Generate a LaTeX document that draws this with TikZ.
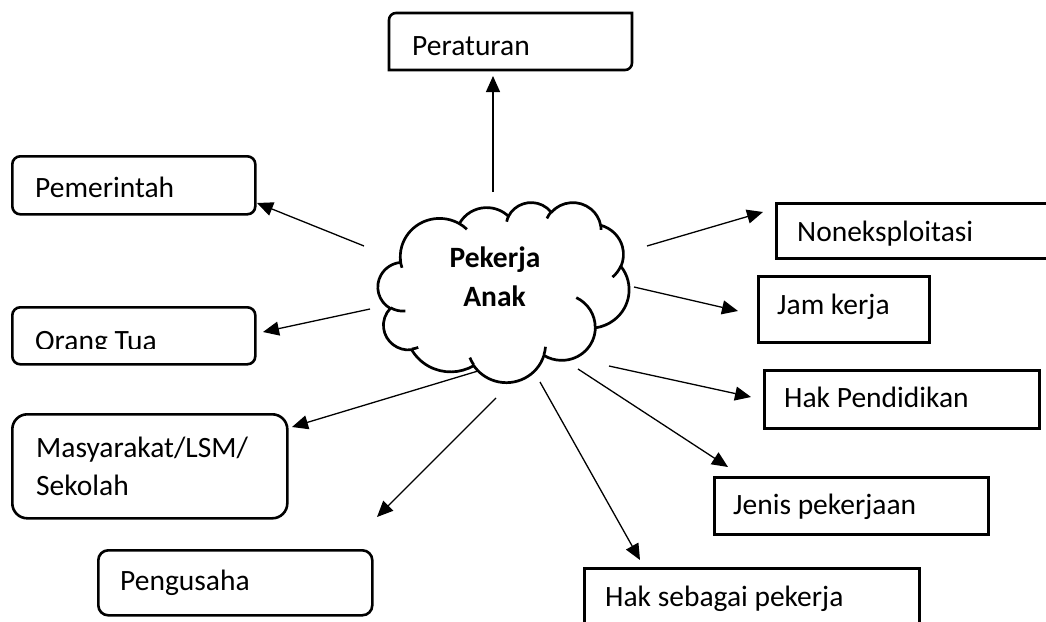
\documentclass[tikz,border=0pt]{standalone}
\usepackage{fontspec}
\setmainfont{Carlito}
\usetikzlibrary{arrows.meta}
% convert DrawingML "visual" angles to parametric canvas angles
\newcommand\cloudcalc[5]{%
  \pgfmathsetmacro\cctha{#4}%
  \pgfmathsetmacro\cctmp{atan2((#2)*sin(\cctha),(#3)*cos(\cctha))}%
  \pgfmathsetmacro\cctmp{-(\cctha+mod(\cctmp-\cctha+900,360)-180)}%
  \expandafter\xdef\csname cc#1s\endcsname{\cctmp}%
  \pgfmathsetmacro\ccthb{(#4)+(#5)}%
  \pgfmathsetmacro\cctmp{atan2((#2)*sin(\ccthb),(#3)*cos(\ccthb))}%
  \pgfmathsetmacro\cctmp{-(\ccthb+mod(\cctmp-\ccthb+900,360)-180)}%
  \expandafter\xdef\csname cc#1e\endcsname{\cctmp}%
}
\begin{document}
\begin{tikzpicture}[x=1pt,y=-1pt,
  boxline/.style={draw=black, line width=2.6pt},
  rbox/.style={boxline, rounded corners=8pt, inner sep=0pt, anchor=north west},
  sbox/.style={boxline, inner sep=0pt, anchor=north west},
  lbl/.style={inner sep=0pt, anchor=base west, font=\fontsize{29.5}{39}\selectfont},
  clbl/.style={inner sep=0pt, anchor=base, font=\fontsize{29.5}{39}\selectfont\bfseries},
  conn/.style={line width=1.3pt, -{Triangle[length=16pt,width=14pt]}},
  cloudline/.style={line width=2.7pt, line join=round}]
\useasboundingbox (0,0) rectangle (1046,621);
\clip (0,0) rectangle (1046,621);
\fill[white] (0,0) rectangle (1046,621);

% ---------- cloud ----------
\cloudcalc{A}{6753}{9190}{-190.48748}{123.78053}
\cloudcalc{B}{5333}{7267}{-144.10238}{89.94523}
\cloudcalc{C}{4365}{5945}{-145.80792}{99.72302}
\cloudcalc{D}{4857}{6595}{-130.98607}{117.24173}
\cloudcalc{E}{5333}{7273}{-78.70888}{109.02692}
\cloudcalc{F}{6775}{9220}{-46.26725}{130.269}
\cloudcalc{G}{5785}{7867}{0.62502}{114.03333}
\cloudcalc{H}{6752}{9215}{22.4516}{115.17255}
\cloudcalc{I}{7720}{10543}{66.24263}{75.71102}
\cloudcalc{J}{4360}{5918}{-274.94208}{146.73557}
\cloudcalc{K}{4345}{5945}{-246.8285}{152.51885}
\cloudcalc{a}{4345}{5945}{86.742}{26.4295}
\cloudcalc{b}{4360}{5918}{73.61047}{11.44747}
\cloudcalc{c}{6752}{9215}{137.62415}{14.0811}
\cloudcalc{d}{6752}{9215}{6.45327}{15.99835}
\cloudcalc{e}{5785}{7867}{-70.29235}{70.91737}
\cloudcalc{f}{5333}{7273}{30.31803}{27.7515}
\cloudcalc{g}{4857}{6595}{-13.74433}{14.8589}
\cloudcalc{h}{4857}{6595}{-149.18145}{18.19537}
\cloudcalc{i}{4365}{5945}{-163.49427}{17.68635}
\cloudcalc{j}{6753}{9190}{-66.70695}{12.31935}
\cloudcalc{k}{6753}{9190}{155.64718}{17.4295}
\def\cx{378}\def\cy{202}\def\cw{251}\def\ch{180}
\draw[cloudline, fill=white] ({\cx+0.090278*\cw},{\cy+0.332639*\ch})
  arc[start angle=\ccAs, end angle=\ccAe, x radius={0.156319*\cw pt}, y radius={0.212731*\ch pt}]
  arc[start angle=\ccBs, end angle=\ccBe, x radius={0.123449*\cw pt}, y radius={0.168218*\ch pt}]
  arc[start angle=\ccCs, end angle=\ccCe, x radius={0.101042*\cw pt}, y radius={0.137616*\ch pt}]
  arc[start angle=\ccDs, end angle=\ccDe, x radius={0.112431*\cw pt}, y radius={0.152662*\ch pt}]
  arc[start angle=\ccEs, end angle=\ccEe, x radius={0.123449*\cw pt}, y radius={0.168356*\ch pt}]
  arc[start angle=\ccFs, end angle=\ccFe, x radius={0.156829*\cw pt}, y radius={0.213426*\ch pt}]
  arc[start angle=\ccGs, end angle=\ccGe, x radius={0.133912*\cw pt}, y radius={0.182106*\ch pt}]
  arc[start angle=\ccHs, end angle=\ccHe, x radius={0.156296*\cw pt}, y radius={0.213310*\ch pt}]
  arc[start angle=\ccIs, end angle=\ccIe, x radius={0.178704*\cw pt}, y radius={0.244051*\ch pt}]
  arc[start angle=\ccJs, end angle=\ccJe, x radius={0.100926*\cw pt}, y radius={0.136991*\ch pt}]
  arc[start angle=\ccKs, end angle=\ccKe, x radius={0.100579*\cw pt}, y radius={0.137616*\ch pt}]
  -- cycle;
\draw[cloudline]
  ({\cx+0.108634*\cw},{\cy+0.605949*\ch}) arc[start angle=\ccas, end angle=\ccae, x radius={0.100579*\cw pt}, y radius={0.137616*\ch pt}]
  ({\cx+0.160370*\cw},{\cy+0.807847*\ch}) arc[start angle=\ccbs, end angle=\ccbe, x radius={0.100926*\cw pt}, y radius={0.136991*\ch pt}]
  ({\cx+0.381435*\cw},{\cy+0.904861*\ch}) arc[start angle=\cccs, end angle=\ccce, x radius={0.156296*\cw pt}, y radius={0.213310*\ch pt}]
  ({\cx+0.667292*\cw},{\cy+0.804421*\ch}) arc[start angle=\ccds, end angle=\ccde, x radius={0.156296*\cw pt}, y radius={0.213310*\ch pt}]
  ({\cx+0.790023*\cw},{\cy+0.531343*\ch}) arc[start angle=\cces, end angle=\ccee, x radius={0.133912*\cw pt}, y radius={0.182106*\ch pt}]
  ({\cx+0.967546*\cw},{\cy+0.355417*\ch}) arc[start angle=\ccfs, end angle=\ccfe, x radius={0.123449*\cw pt}, y radius={0.168356*\ch pt}]
  ({\cx+0.887130*\cw},{\cy+0.125602*\ch}) arc[start angle=\ccgs, end angle=\ccge, x radius={0.112431*\cw pt}, y radius={0.152662*\ch pt}]
  ({\cx+0.673102*\cw},{\cy+0.091481*\ch}) arc[start angle=\cchs, end angle=\cche, x radius={0.112431*\cw pt}, y radius={0.152662*\ch pt}]
  ({\cx+0.512523*\cw},{\cy+0.109259*\ch}) arc[start angle=\ccis, end angle=\ccie, x radius={0.101042*\cw pt}, y radius={0.137616*\ch pt}]
  ({\cx+0.324074*\cw},{\cy+0.120185*\ch}) arc[start angle=\ccjs, end angle=\ccje, x radius={0.156319*\cw pt}, y radius={0.212731*\ch pt}]
  ({\cx+0.095532*\cw},{\cy+0.365486*\ch}) arc[start angle=\ccks, end angle=\ccke, x radius={0.156319*\cw pt}, y radius={0.212731*\ch pt}];
\node[clbl] (pek) at (495,267) {Pekerja};
\node[clbl] (anak) at (494.5,306) {Anak};

% ---------- boxes ----------
\draw[boxline] (389,70) -- (389,20) arc[start angle=180, end angle=90, radius=7pt]
  -- (632,13) -- (632,63) arc[start angle=0, end angle=-90, radius=7pt] -- cycle;
\node[lbl] (per) at (412,55) {Peraturan};

\node[rbox, minimum width=243pt, minimum height=58pt] (pemB) at (11,155) {};
\node[lbl] (pem) at (35,197) {Pemerintah};

\node[rbox, minimum width=243pt, minimum height=57pt] (ortB) at (11,306) {};
\begin{scope}
  \clip (11,300) rectangle (254,348);
  \node[lbl] (ort) at (35,350) {Orang Tua};
\end{scope}

\node[rbox, rounded corners=15pt, minimum width=275pt, minimum height=104pt] (masB) at (11,413) {};
\node[lbl] (mas1) at (36,457) {Masyarakat/LSM/};
\node[lbl] (mas2) at (36,495.5) {Sekolah};

\node[rbox, rounded corners=10pt, minimum width=274pt, minimum height=65pt] (penB) at (97,549) {};
\node[lbl] (pen) at (120,590.5) {Pengusaha};

\node[sbox, minimum width=295pt, minimum height=55pt] (nonB) at (775,202) {};
\node[lbl] (non) at (797,241.5) {Noneksploitasi};

\node[sbox, minimum width=171pt, minimum height=66pt] (jamB) at (757,275) {};
\node[lbl] (jam) at (777,314) {Jam kerja};

\node[sbox, minimum width=275pt, minimum height=58pt] (hpdB) at (763,369) {};
\node[lbl] (hpd) at (784,407) {Hak Pendidikan};

\node[sbox, minimum width=274pt, minimum height=57pt] (jenB) at (713,476) {};
\node[lbl] (jen) at (733,514) {Jenis pekerjaan};

\node[sbox, minimum width=335pt, minimum height=83pt] (hspB) at (583,567) {};
\node[lbl] (hsp) at (605,606.5) {Hak sebagai pekerja};

% ---------- connectors ----------
\coordinate (s1) at (493,192);  \coordinate (t1) at (493,76);
\coordinate (s2) at (364,246);  \coordinate (t2) at (257,203);
\coordinate (s3) at (370,309);  \coordinate (t3) at (263,332);
\coordinate (s4) at (478,371);  \coordinate (t4) at (292,427);
\coordinate (s5) at (496,398);  \coordinate (t5) at (377,517);
\coordinate (s6) at (647,246);  \coordinate (t6) at (763,212);
\coordinate (s7) at (634,287);  \coordinate (t7) at (738,311);
\coordinate (s8) at (609,366);  \coordinate (t8) at (751,397);
\coordinate (s9) at (578,369);  \coordinate (t9) at (728,467);
\coordinate (s10) at (540,382); \coordinate (t10) at (640,560);
\foreach \i in {1,...,10} {\draw[conn] (s\i) -- (t\i);}
\end{tikzpicture}
\end{document}
